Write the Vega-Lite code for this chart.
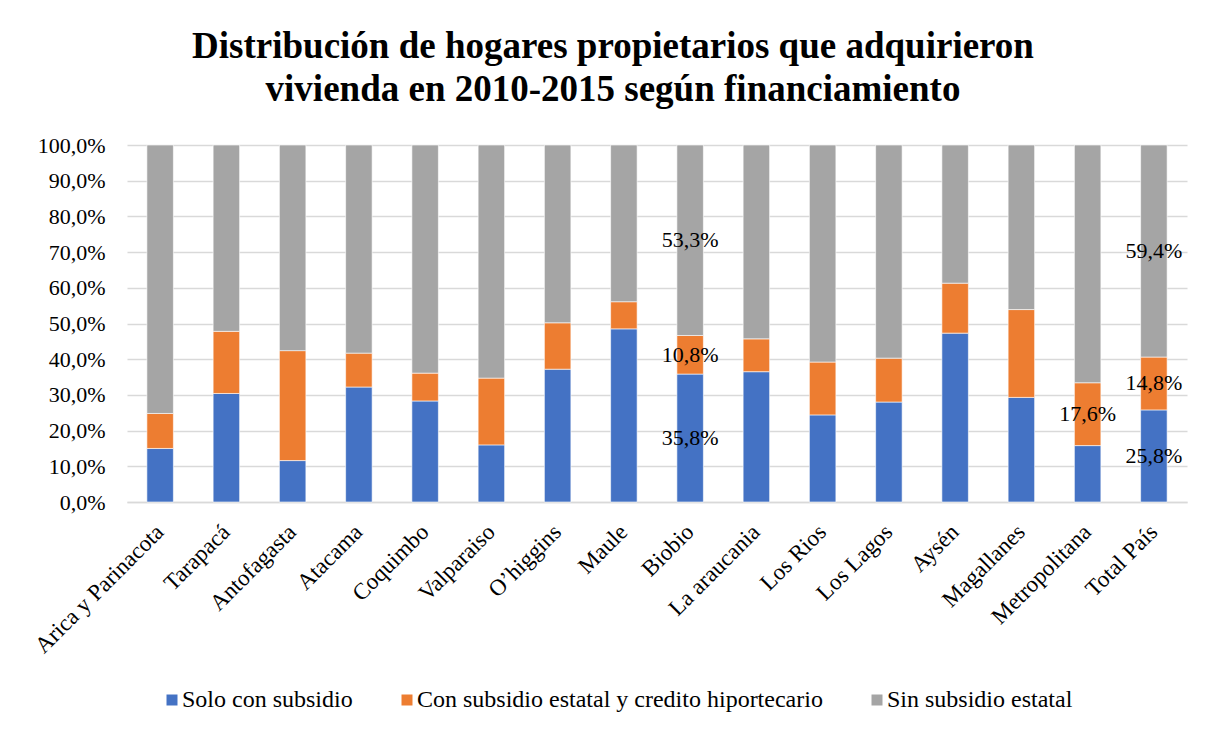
{
  "$schema": "https://vega.github.io/schema/vega-lite/v6.json",
  "width": 1060,
  "height": 357,
  "autosize": {"type": "none"},
  "padding": {"left": 127, "top": 145, "right": 28, "bottom": 232},
  "background": "white",
  "config": {
    "locale": {"number": {"decimal": ",", "thousands": ".", "grouping": [3], "currency": ["", " €"]}},
    "font": "Liberation Serif",
    "view": {"stroke": null},
    "legend": {"labelFont": "Liberation Serif", "labelFontSize": 24, "labelLimit": 0},
    "style": {"guide-label": {"font": "Liberation Serif"}}
  },
  "title": {
    "text": ["Distribución de hogares propietarios que adquirieron", "vivienda en 2010-2015 según financiamiento"],
    "font": "Liberation Serif",
    "fontSize": 37,
    "fontWeight": "bold",
    "color": "#000000",
    "anchor": "middle",
    "dx": -44,
    "offset": 25,
    "lineHeight": 43
  },
  "data": {
    "values": [
      {"region": "Arica y Parinacota", "serie": "Solo con subsidio", "valor": 0.150},
      {"region": "Arica y Parinacota", "serie": "Con subsidio estatal y credito hiportecario", "valor": 0.098},
      {"region": "Arica y Parinacota", "serie": "Sin subsidio estatal", "valor": 0.752},
      {"region": "Tarapacá", "serie": "Solo con subsidio", "valor": 0.304},
      {"region": "Tarapacá", "serie": "Con subsidio estatal y credito hiportecario", "valor": 0.174},
      {"region": "Tarapacá", "serie": "Sin subsidio estatal", "valor": 0.522},
      {"region": "Antofagasta", "serie": "Solo con subsidio", "valor": 0.116},
      {"region": "Antofagasta", "serie": "Con subsidio estatal y credito hiportecario", "valor": 0.308},
      {"region": "Antofagasta", "serie": "Sin subsidio estatal", "valor": 0.576},
      {"region": "Atacama", "serie": "Solo con subsidio", "valor": 0.322},
      {"region": "Atacama", "serie": "Con subsidio estatal y credito hiportecario", "valor": 0.095},
      {"region": "Atacama", "serie": "Sin subsidio estatal", "valor": 0.583},
      {"region": "Coquimbo", "serie": "Solo con subsidio", "valor": 0.283},
      {"region": "Coquimbo", "serie": "Con subsidio estatal y credito hiportecario", "valor": 0.078},
      {"region": "Coquimbo", "serie": "Sin subsidio estatal", "valor": 0.639},
      {"region": "Valparaiso", "serie": "Solo con subsidio", "valor": 0.160},
      {"region": "Valparaiso", "serie": "Con subsidio estatal y credito hiportecario", "valor": 0.187},
      {"region": "Valparaiso", "serie": "Sin subsidio estatal", "valor": 0.653},
      {"region": "O’higgins", "serie": "Solo con subsidio", "valor": 0.372},
      {"region": "O’higgins", "serie": "Con subsidio estatal y credito hiportecario", "valor": 0.130},
      {"region": "O’higgins", "serie": "Sin subsidio estatal", "valor": 0.498},
      {"region": "Maule", "serie": "Solo con subsidio", "valor": 0.485},
      {"region": "Maule", "serie": "Con subsidio estatal y credito hiportecario", "valor": 0.076},
      {"region": "Maule", "serie": "Sin subsidio estatal", "valor": 0.439},
      {"region": "Biobio", "serie": "Solo con subsidio", "valor": 0.358},
      {"region": "Biobio", "serie": "Con subsidio estatal y credito hiportecario", "valor": 0.108},
      {"region": "Biobio", "serie": "Sin subsidio estatal", "valor": 0.533},
      {"region": "La araucania", "serie": "Solo con subsidio", "valor": 0.365},
      {"region": "La araucania", "serie": "Con subsidio estatal y credito hiportecario", "valor": 0.092},
      {"region": "La araucania", "serie": "Sin subsidio estatal", "valor": 0.543},
      {"region": "Los Rios", "serie": "Solo con subsidio", "valor": 0.244},
      {"region": "Los Rios", "serie": "Con subsidio estatal y credito hiportecario", "valor": 0.148},
      {"region": "Los Rios", "serie": "Sin subsidio estatal", "valor": 0.608},
      {"region": "Los Lagos", "serie": "Solo con subsidio", "valor": 0.280},
      {"region": "Los Lagos", "serie": "Con subsidio estatal y credito hiportecario", "valor": 0.123},
      {"region": "Los Lagos", "serie": "Sin subsidio estatal", "valor": 0.597},
      {"region": "Aysén", "serie": "Solo con subsidio", "valor": 0.473},
      {"region": "Aysén", "serie": "Con subsidio estatal y credito hiportecario", "valor": 0.140},
      {"region": "Aysén", "serie": "Sin subsidio estatal", "valor": 0.387},
      {"region": "Magallanes", "serie": "Solo con subsidio", "valor": 0.293},
      {"region": "Magallanes", "serie": "Con subsidio estatal y credito hiportecario", "valor": 0.246},
      {"region": "Magallanes", "serie": "Sin subsidio estatal", "valor": 0.461},
      {"region": "Metropolitana", "serie": "Solo con subsidio", "valor": 0.158},
      {"region": "Metropolitana", "serie": "Con subsidio estatal y credito hiportecario", "valor": 0.176},
      {"region": "Metropolitana", "serie": "Sin subsidio estatal", "valor": 0.666},
      {"region": "Total País", "serie": "Solo con subsidio", "valor": 0.258},
      {"region": "Total País", "serie": "Con subsidio estatal y credito hiportecario", "valor": 0.148},
      {"region": "Total País", "serie": "Sin subsidio estatal", "valor": 0.594}
    ]
  },
  "transform": [
    {"stack": "valor", "groupby": ["region"], "offset": "normalize", "as": ["y0", "y1"]},
    {"calculate": "(datum.y0 + datum.y1) / 2", "as": "ymid"}
  ],
  "layer": [
    {
      "mark": {"type": "bar", "stroke": "white", "strokeWidth": 0.6},
      "encoding": {
        "x": {
          "field": "region", "type": "nominal", "sort": null,
          "scale": {"paddingInner": 0.6, "paddingOuter": 0.3},
          "axis": {
            "title": null, "labelAngle": -45, "labelAlign": "right", "labelBaseline": "middle",
            "labelFont": "Liberation Serif", "labelFontSize": 23, "labelColor": "#000000",
            "labelPadding": 26, "labelOverlap": false, "ticks": false, "domainColor": "#d9d9d9", "domainWidth": 1.5,
            "grid": false
          }
        },
        "y": {
          "field": "y0", "type": "quantitative",
          "scale": {"domain": [0, 1], "nice": false},
          "axis": {
            "title": null, "values": [0, 0.1, 0.2, 0.3, 0.4, 0.5, 0.6, 0.7, 0.8, 0.9, 1], "tickCount": 20,
            "format": ".1%", "labelFont": "Liberation Serif", "labelFontSize": 22, "labelColor": "#000000",
            "labelPadding": 22, "labelOverlap": false, "ticks": false, "domain": false,
            "grid": true, "gridColor": "#d9d9d9", "gridWidth": 1.5
          }
        },
        "y2": {"field": "y1"},
        "color": {
          "field": "serie", "type": "nominal",
          "scale": {
            "domain": ["Solo con subsidio", "Con subsidio estatal y credito hiportecario", "Sin subsidio estatal"],
            "range": ["#4472C4", "#ED7D31", "#A5A5A5"]
          },
          "legend": {
            "title": null, "orient": "none", "legendX": 33, "legendY": 543, "direction": "horizontal",
            "padding": 0,
            "symbolType": "square", "symbolSize": 121, "symbolStrokeWidth": 0,
            "labelFont": "Liberation Serif", "labelFontSize": 24, "labelColor": "#000000", "labelLimit": 0,
            "labelOffset": -2, "columnPadding": 42
          }
        }
      }
    },
    {
      "transform": [
        {"filter": "datum.region == 'Biobio' || datum.region == 'Total País' || (datum.region == 'Metropolitana' && datum.serie == 'Con subsidio estatal y credito hiportecario')"}
      ],
      "mark": {"type": "text", "font": "Liberation Serif", "fontSize": 22, "color": "#000000"},
      "encoding": {
        "x": {"field": "region", "type": "nominal", "sort": null},
        "y": {"field": "ymid", "type": "quantitative"},
        "text": {"field": "valor", "type": "quantitative", "format": ".1%"}
      }
    }
  ]
}
